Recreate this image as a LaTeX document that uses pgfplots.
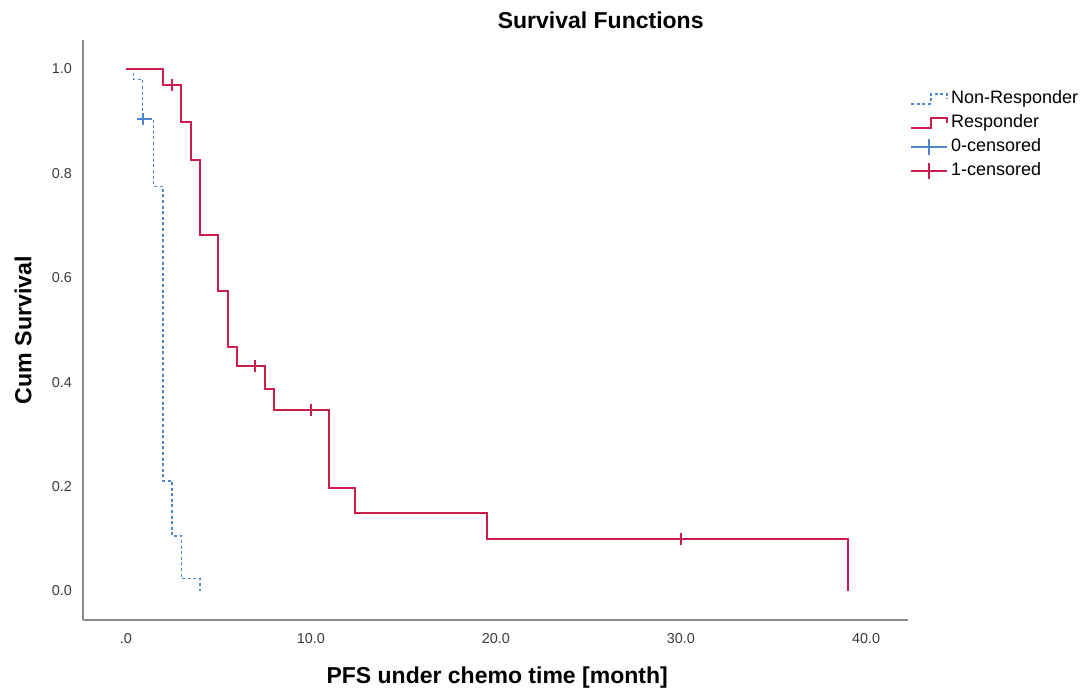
\documentclass[border=0pt]{standalone}
\usepackage{pgfplots}
\pgfplotsset{compat=1.18}
\usepackage{fontspec}
\setmainfont{Liberation Sans}
\definecolor{kmred}{RGB}{206,28,76}
\definecolor{kmblue}{RGB}{78,136,200}
\definecolor{axgray}{RGB}{140,140,140}
\definecolor{tickgray}{RGB}{60,60,60}
\begin{document}
\begin{tikzpicture}
\useasboundingbox (0,0) rectangle (542.5pt,345.5pt);
\begin{axis}[
  at={(41.5pt,35.5pt)}, anchor=south west,
  scale only axis, width=412.5pt, height=290pt,
  xmin=-2.32, xmax=42.27, ymin=-0.0556, ymax=1.0556,
  axis x line=bottom, axis y line=left,
  axis line style={draw=axgray, line width=0.8pt, -},
  major tick length=0pt,
  xtick={0,10,20,30,40}, xticklabels={.0,10.0,20.0,30.0,40.0},
  ytick={0,0.2,0.4,0.6,0.8,1.0}, yticklabels={0.0,0.2,0.4,0.6,0.8,1.0},
  ticklabel style={font=\fontsize{7.2}{8}\selectfont, text=tickgray},
  xticklabel style={yshift=-3pt},
  yticklabel style={xshift=-2pt},
  xlabel={PFS under chemo time [month]},
  ylabel={Cum Survival},
  xlabel style={font=\bfseries\fontsize{11.5}{13}\selectfont, at={(axis description cs:0.502,-0.1)}, anchor=center},
  ylabel style={font=\bfseries\fontsize{11.6}{13}\selectfont, at={(axis description cs:-0.0727,0.5)}, anchor=center},
  title={Survival Functions},
  title style={font=\bfseries\fontsize{11.5}{13}\selectfont, at={(axis description cs:0.6275,1.014)}, anchor=center},
  clip=false,
  legend style={at={(1.002,0.92)}, anchor=north west, draw=none, fill=none,
    font=\fontsize{9}{11}\selectfont, row sep=0pt, inner sep=0pt,
    nodes={inner sep=1.5pt, text height=7pt, text depth=2pt}},
  legend cell align=left,
]
\addplot[const plot, kmblue, line width=0.8pt, dash pattern=on 1.5pt off 1.3pt,
  legend image code/.code={\draw[kmblue, line width=0.8pt, dash pattern=on 1.5pt off 1.3pt] (0pt,-2.5pt) -- (10pt,-2.5pt) -- (10pt,2.5pt) -- (18pt,2.5pt) -- (18pt,0pt);}]
  coordinates {(0,1) (0.4,0.98) (0.9,0.904) (1.5,0.775) (2,0.211) (2.5,0.105) (3,0.024) (4,0)};
\addlegendentry{Non-Responder}
\addplot[const plot, kmred, line width=1pt,
  legend image code/.code={\draw[kmred, line width=1pt] (0pt,-2.5pt) -- (10pt,-2.5pt) -- (10pt,2.5pt) -- (18pt,2.5pt) -- (18pt,0pt);}]
  coordinates {(0,1) (2,0.969) (3,0.899) (3.5,0.826) (4,0.682) (5,0.575) (5.5,0.468) (6,0.431) (7.5,0.387) (8,0.347) (11,0.198) (12.4,0.149) (19.5,0.099) (39,0)};
\addlegendentry{Responder}
\addplot[only marks, mark=+, mark size=3pt, kmblue, mark options={line width=1pt},
  legend image code/.code={\draw[kmblue, line width=0.8pt] (0pt,0pt) -- (18pt,0pt); \draw[kmblue, line width=0.8pt] (9pt,-4pt) -- (9pt,4pt);}]
  coordinates {(0.9,0.904)};
\addlegendentry{0-censored}
\addplot[only marks, mark=+, mark size=3pt, kmred, mark options={line width=1pt},
  legend image code/.code={\draw[kmred, line width=1pt] (0pt,0pt) -- (18pt,0pt); \draw[kmred, line width=1pt] (9pt,-4pt) -- (9pt,4pt);}]
  coordinates {(2.5,0.969) (7,0.431) (10,0.347) (30,0.099)};
\addlegendentry{1-censored}
\end{axis}
\end{tikzpicture}
\end{document}
